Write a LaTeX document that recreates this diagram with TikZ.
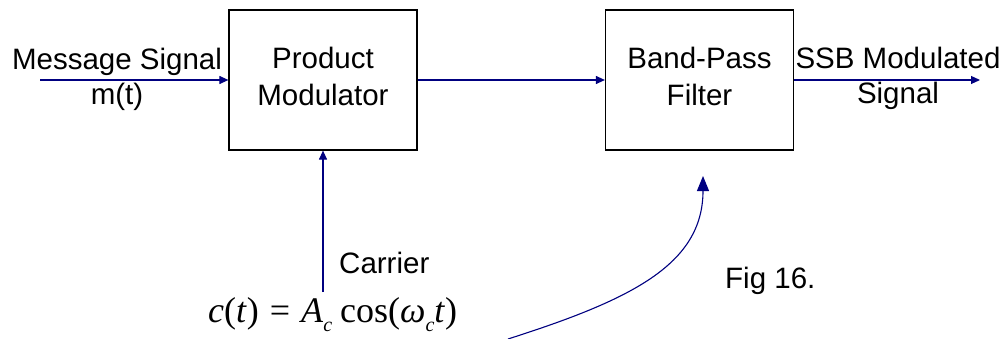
\documentclass[tikz,border=0pt]{standalone}
\usepackage{fontspec}
\setmainfont{Liberation Sans}
\newfontfamily\eqfont{Liberation Serif}
\usetikzlibrary{arrows.meta}
\definecolor{arrowblue}{HTML}{000080}
\newcommand{\eqsub}[1]{\raisebox{-9pt}{\fontsize{20}{24}\selectfont\textit{#1}}}
\tikzset{
  blockbox/.style={draw=black, line width=1.2pt, minimum width=188pt, minimum height=140pt,
    align=center, inner sep=0pt, font=\fontsize{29.5}{37}\selectfont},
  sig/.style={draw=arrowblue, line width=1.1pt, -{Triangle[length=9pt,width=8pt]}},
  lbl/.style={inner sep=0pt, align=center, font=\fontsize{29.5}{35}\selectfont},
}
\begin{document}
\begin{tikzpicture}[x=1pt,y=1pt]
\useasboundingbox (0,0) rectangle (1008,-339);
% blocks
\node[blockbox] (pm) at (323,-80) {\begin{tabular}{@{}c@{}}Product\\Modulator\end{tabular}};
\node[blockbox] (bpf) at (699.5,-80) {\begin{tabular}{@{}c@{}}Band-Pass\\Filter\end{tabular}};
% labels
\node[lbl] (msg) at (117,-79.8) {Message Signal\\m(t)};
\node[lbl] (ssb) at (898,-78.3) {SSB Modulated\\Signal};
\node[lbl, anchor=base west] (car) at (339,-273) {Carrier};
\node[lbl, anchor=base west] (fig) at (725,-288) {Fig 16.};
\node[inner sep=0pt, anchor=base west, font=\eqfont\fontsize{36}{40}\selectfont] (eq) at (208,-322)
  {\textit{c}(\textit{t})\hspace{11pt}=\hspace{11pt}\textit{A}\eqsub{c}\hspace{8pt}cos(\textit{ω}\eqsub{c}\textit{t})};
% free ends
\coordinate (in) at (40,-80);
\coordinate (out) at (980,-80);
\coordinate (carS) at (323,-292);
\coordinate (cs) at (508,-339);
\coordinate (ce) at (703,-176);
% connectors
\draw[sig] (in) -- (pm.west);
\draw[sig] (pm.east) -- (bpf.west);
\draw[sig] (bpf.east) -- (out);
\draw[sig] (carS) -- (pm.south);
\draw[draw=arrowblue, line width=1.1pt, -{Triangle[length=15pt,width=12pt]}]
  (cs) .. controls (630,-300) and (703,-265) .. (ce);
\end{tikzpicture}
\end{document}
